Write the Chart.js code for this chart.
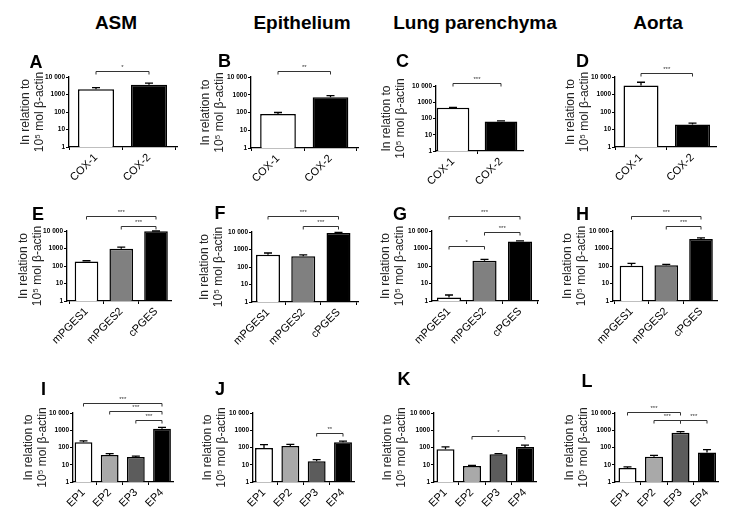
<!DOCTYPE html>
<html><head><meta charset="utf-8">
<script src="https://cdn.jsdelivr.net/npm/chart.js@4.4.0/dist/chart.umd.min.js"></script>
<style>
body{margin:0;background:#fff;width:733px;height:524px;position:relative;overflow:hidden;font-family:"Liberation Sans",Arial,sans-serif}
canvas{position:absolute}
.t{position:absolute;font-weight:bold;font-size:19px;line-height:19px;transform:translate(-50%,-50%);white-space:nowrap;color:#000}
.l{position:absolute;font-weight:bold;font-size:18px;line-height:18px;transform:translate(-50%,-50%);color:#000}
</style></head><body>
<script>
// ---------- data ----------
const tissues = ['ASM', 'Epithelium', 'Lung parenchyma', 'Aorta'];
const panelLetters = ['A','B','C','D','E','F','G','H','I','J','K','L'];
const coxGenes = ['COX-1', 'COX-2'];
const pgesGenes = ['mPGES1', 'mPGES2', 'cPGES'];
const epGenes = ['EP1', 'EP2', 'EP3', 'EP4'];
const yTickValues = [1, 10, 100, 1000, 10000];
const yTickLabels = ['1', '10', '100', '1000', '10 000'];
const yTitle = ['In relation to', '10\u2075 mol \u03b2-actin'];

// means and upper error limits
const coxASM = [2000, 3600],          coxASMErr = [2500, 4500];
const coxEpi = [83, 715],             coxEpiErr = [100, 890];
const coxLung = [457, 65],            coxLungErr = [480, 72];
const coxAorta = [3300, 19],          coxAortaErr = [5000, 23];
const pgesASM = [178, 980, 9600],     pgesASMErr = [200, 1200, 10000];
const pgesEpi = [507, 405, 8800],     pgesEpiErr = [630, 490, 9600];
const pgesLung = [1.6, 200, 2500],    pgesLungErr = [2.2, 240, 2700];
const pgesAorta = [105, 110, 3500],   pgesAortaErr = [140, 125, 4000];
const epASM = [200, 37, 28, 1230],    epASMErr = [240, 44, 32, 1480];
const epEpi = [93, 122, 16, 200],     epEpiErr = [145, 150, 20, 235];
const epLung = [78, 8.5, 40, 107],    epLungErr = [110, 9.3, 44, 138];
const epAorta = [6.5, 29, 720, 52],   epAortaErr = [7.6, 35, 830, 75];

// significance brackets: [from, to, height (value), label]
const brA = [[0,1,22000,'*']];
const brB = [[0,1,22000,'**']];
const brC = [[0,1,15000,'***']];
const brD = [[0,1,17000,'***']];
const brE = [[0,2,72000,'***'],[1,2,19000,'***']];
const brF = [[0,2,82000,'***'],[1,2,22000,'***']];
const brG = [[0,2,72000,'***'],[1,2,8800,'***'],[0,1,1400,'*']];
const brH = [[0,2,72000,'***'],[1,2,19000,'***']];
const brI = [[0,3,38000,'***'],[1,3,13000,'***'],[2,3,3900,'***']];
const brJ = [[2,3,690,'**']];
const brK = [[1,3,465,'*']];
const brL = [[0,2,11400,'***'],[1,2,3900,'***'],[2,3,3900,'***']];

// ---------- styles / layout ----------
const coxColors = ['#ffffff', '#000000'];
const pgesColors = ['#ffffff', '#808080', '#000000'];
const epColors = ['#ffffff', '#a9a9a9', '#5c5c5c', '#000000'];

const panels = [
  {genes: coxGenes, v: coxASM, e: coxASMErr, c: coxColors, br: brA},
  {genes: coxGenes, v: coxEpi, e: coxEpiErr, c: coxColors, br: brB},
  {genes: coxGenes, v: coxLung, e: coxLungErr, c: coxColors, br: brC},
  {genes: coxGenes, v: coxAorta, e: coxAortaErr, c: coxColors, br: brD},
  {genes: pgesGenes, v: pgesASM, e: pgesASMErr, c: pgesColors, br: brE},
  {genes: pgesGenes, v: pgesEpi, e: pgesEpiErr, c: pgesColors, br: brF},
  {genes: pgesGenes, v: pgesLung, e: pgesLungErr, c: pgesColors, br: brG},
  {genes: pgesGenes, v: pgesAorta, e: pgesAortaErr, c: pgesColors, br: brH},
  {genes: epGenes, v: epASM, e: epASMErr, c: epColors, br: brI},
  {genes: epGenes, v: epEpi, e: epEpiErr, c: epColors, br: brJ},
  {genes: epGenes, v: epLung, e: epLungErr, c: epColors, br: brK},
  {genes: epGenes, v: epAorta, e: epAortaErr, c: epColors, br: brL}
];
// [axisX, right, firstCenter, lastCenter, top, bottom, yTitleLine1X]
const layout = [
  [69, 177, 96, 149, 77, 147, 25],
  [251, 358, 278, 330.5, 77, 148, 205],
  [436, 523, 453, 501, 86, 151, 386],
  [615, 716, 641, 692.5, 77, 147, 570],
  [67, 171, 86.5, 156, 231, 301, 23],
  [252, 358, 268, 338.5, 232, 302, 204],
  [432, 538, 449, 520, 231, 301, 385],
  [613, 717, 631.5, 701, 231, 301, 567],
  [73, 173, 83.5, 162, 413, 482, 28],
  [253, 354, 264, 343, 413, 482, 207],
  [434, 536, 445.5, 525, 413, 482, 387],
  [615, 718, 627.5, 707, 413, 482, 569]
];
const titlePos = [[116,22],[302,22],[475,22],[658,22]];
const letterPos = [[36,61.5],[224.5,61],[402.5,60.5],[582.5,61],[38,213.5],[220,212.5],[400,213.5],[582.5,213.5],[43.5,388.5],[220,389],[404,379],[587,381]];

const FAMILY = '"Liberation Sans", Arial, sans-serif';
Chart.defaults.font.family = FAMILY;
Chart.defaults.color = '#000';

const errPlugin = {
  id: 'errBars',
  afterDatasetsDraw(chart) {
    const p = chart.options.plugins.errBars;
    const ys = chart.scales.y, xs = chart.scales.x, ctx = chart.ctx;
    const meta = chart.getDatasetMeta(0);
    ctx.save();
    ctx.strokeStyle = '#000';
    ctx.lineWidth = 1.3;
    meta.data.forEach((el, i) => {
      const yt = ys.getPixelForValue(p.err[i]);
      const x = el.x;
      ctx.beginPath();
      ctx.moveTo(x, el.y); ctx.lineTo(x, yt);
      ctx.moveTo(x - 4, yt); ctx.lineTo(x + 4, yt);
      ctx.stroke();
    });
    // brackets
    ctx.lineWidth = 1;
    ctx.strokeStyle = '#333';
    ctx.fillStyle = '#333';
    ctx.font = '6px ' + FAMILY;
    ctx.textAlign = 'center';
    ctx.textBaseline = 'bottom';
    p.br.forEach(b => {
      const xa = xs.getPixelForValue(b[0]), xb = xs.getPixelForValue(b[1]);
      const y = Math.round(ys.getPixelForValue(b[2])) + 0.5;
      ctx.beginPath();
      ctx.moveTo(xa, y + 3); ctx.lineTo(xa, y); ctx.lineTo(xb, y); ctx.lineTo(xb, y + 3);
      ctx.stroke();
      ctx.fillText(b[3], (xa + xb) / 2, y - 1);
    });
    ctx.restore();
  }
};

panels.forEach((p, k) => {
  const [axisX, right, c1, cn, top, bottom, lx] = layout[k];
  const n = p.genes.length;
  const ppu = (cn - c1) / (n - 1);
  const xmin = -(c1 - axisX) / ppu;
  const xmax = (n - 1) + (right - cn) / ppu;
  const cl = Math.round(lx - 7.2);
  const ct = top - 30;
  const cw = right + 4 - cl;
  const ch = bottom + 52 - ct;
  const cv = document.createElement('canvas');
  cv.width = cw; cv.height = ch;
  cv.style.left = cl + 'px'; cv.style.top = ct + 'px';
  cv.style.width = cw + 'px'; cv.style.height = ch + 'px';
  document.body.appendChild(cv);
  new Chart(cv, {
    type: 'bar',
    data: {
      datasets: [{
        data: p.v.map((v, i) => ({x: i, y: v})),
        backgroundColor: p.c,
        borderColor: '#000',
        borderWidth: 1.5,
        barPercentage: 0.68,
        categoryPercentage: 1
      }]
    },
    options: {
      responsive: false,
      animation: false,
      devicePixelRatio: 1,
      layout: {padding: {top: 30, right: 4, left: 0, bottom: 0}},
      plugins: {legend: {display: false}, tooltip: {enabled: false},
        errBars: {err: p.e, br: p.br}},
      scales: {
        x: {
          type: 'linear', min: xmin, max: xmax, offset: false,
          grid: {display: true, drawOnChartArea: false, drawTicks: true, tickLength: 3, color: '#000', lineWidth: 1},
          border: {display: true, color: '#000', width: 1.3},
          afterBuildTicks: s => { s.ticks = p.genes.map((g, i) => ({value: i})); },
          afterFit: s => { s.height = 52; },
          ticks: {autoSkip: false, minRotation: 45, maxRotation: 45, padding: 1,
            font: {size: 11}, color: '#000',
            callback: (v, i) => p.genes[i]}
        },
        y: {
          type: 'logarithmic', min: 1, max: 10000,
          grid: {display: true, drawOnChartArea: false, drawTicks: true, tickLength: 3, color: '#000', lineWidth: 1},
          border: {display: true, color: '#000', width: 1.3},
          afterBuildTicks: s => { s.ticks = yTickValues.map(v => ({value: v})); },
          afterFit: s => { s.width = axisX - cl; },
          ticks: {autoSkip: false, padding: 1, font: {size: 6.5, weight: 'bold'}, color: '#000',
            callback: (v, i) => yTickLabels[i]},
          title: {display: true, text: yTitle, padding: 0, color: '#222', font: {size: 12, lineHeight: 1.2}}
        }
      }
    },
    plugins: [errPlugin]
  });
});

tissues.forEach((t, i) => {
  const d = document.createElement('div');
  d.className = 't'; d.textContent = t;
  d.style.left = titlePos[i][0] + 'px'; d.style.top = titlePos[i][1] + 'px';
  document.body.appendChild(d);
});
panelLetters.forEach((t, i) => {
  const d = document.createElement('div');
  d.className = 'l'; d.textContent = t;
  d.style.left = letterPos[i][0] + 'px'; d.style.top = letterPos[i][1] + 'px';
  document.body.appendChild(d);
});
</script>
</body></html>
